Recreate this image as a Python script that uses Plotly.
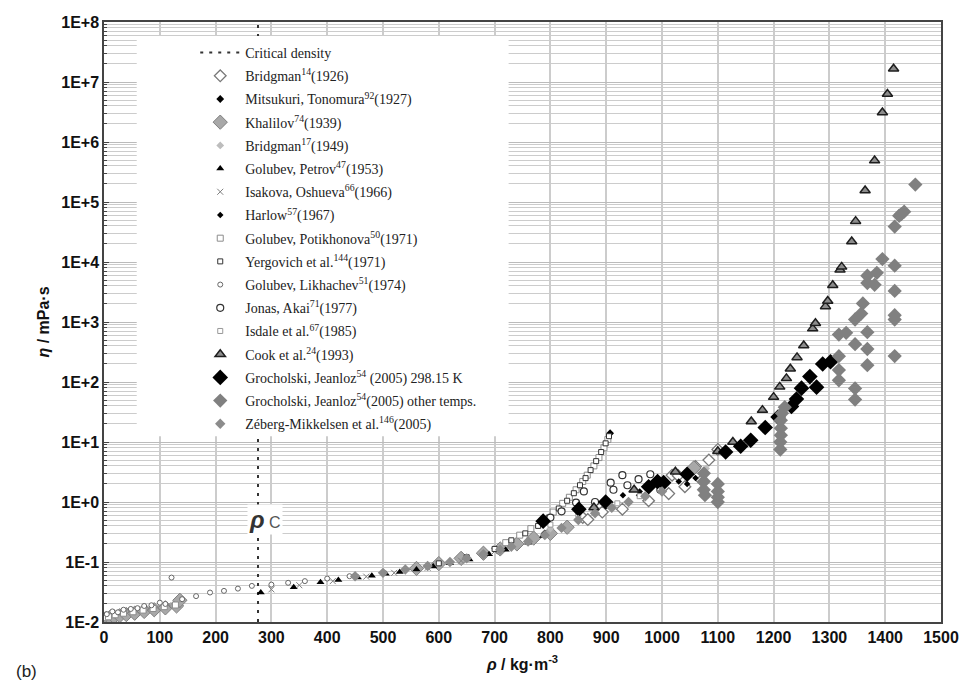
import plotly.graph_objects as go

# ---------------- data ----------------
rho_crit = 276

bridg26_rho = [858, 867, 893, 929, 976, 1012, 1018, 1029, 1041, 1071, 1084, 1100, 1060]
bridg26_eta = [0.55, 0.51, 0.68, 0.76, 1.05, 1.38, 2.8, 2.75, 1.8, 2.3, 5.0, 7.5, 3.9]

mitsu_rho = [620, 680, 740, 790, 850, 907, 960, 1000]
mitsu_eta = [0.10, 0.14, 0.20, 0.30, 0.52, 14.0, 1.3, 1.8]

khal_rho = [0, 4, 10, 18, 28, 40, 55, 72, 90, 110, 130, 136, 560, 600, 640, 680, 710, 740, 770, 800, 830, 1057]
khal_eta = [0.0112, 0.0115, 0.0118, 0.0122, 0.0127, 0.0133, 0.014, 0.015, 0.016, 0.0172, 0.0185, 0.023,
            0.078, 0.094, 0.115, 0.14, 0.165, 0.2, 0.25, 0.3, 0.38, 3.7]

bridg49_rho = [700, 800, 900, 1000, 1077, 1079]
bridg49_eta = [0.17, 0.36, 0.85, 1.9, 3.2, 3.6]

gpet_rho = [281, 340, 388, 420, 455, 480, 505, 530, 560, 590, 620, 655, 690, 720, 760, 787]
gpet_eta = [0.031, 0.038, 0.046, 0.050, 0.055, 0.059, 0.064, 0.068, 0.075, 0.084, 0.095, 0.11, 0.135, 0.16, 0.21, 0.27]

isak_rho = [3, 10, 20, 30, 45, 58, 70, 82, 95, 115, 130, 300, 350, 410, 470, 520, 580, 640, 700]
isak_eta = [0.0125, 0.013, 0.0138, 0.0142, 0.015, 0.0155, 0.016, 0.0168, 0.0175, 0.019, 0.0195,
            0.035, 0.041, 0.048, 0.057, 0.066, 0.08, 0.105, 0.15]

harlow_rho = [900, 930, 960, 985, 1000, 1030, 1045, 1060]
harlow_eta = [1.0, 1.3, 1.5, 2.0, 1.6, 2.2, 2.0, 2.5]

gpot_rho = [0, 8, 20, 35, 52, 70, 88, 108, 128, 720, 745, 765, 787, 805, 822, 834, 846, 858, 866, 878, 887, 896, 903]
gpot_eta = [0.0118, 0.0122, 0.0132, 0.014, 0.0148, 0.0158, 0.0168, 0.018, 0.0192,
            0.21, 0.28, 0.36, 0.50, 0.68, 0.95, 1.2, 1.6, 2.2, 2.8, 4.0, 5.5, 8.0, 11.0]

yerg_rho = [600, 650, 700, 730, 755, 778, 797, 815, 830, 842, 853, 863, 872, 882, 891, 899, 905]
yerg_eta = [0.095, 0.12, 0.165, 0.23, 0.30, 0.40, 0.55, 0.78, 1.05, 1.4, 1.9, 2.5, 3.4, 4.8, 6.8, 9.5, 12.5]

glik_rho = [5, 15, 25, 35, 48, 60, 72, 85, 100, 110, 121, 140, 165, 190, 215, 240, 265, 300, 330, 360, 400, 440]
glik_eta = [0.0135, 0.015, 0.0145, 0.016, 0.0165, 0.017, 0.0185, 0.019, 0.021, 0.02, 0.055, 0.024,
            0.027, 0.031, 0.033, 0.036, 0.04, 0.042, 0.045, 0.048, 0.053, 0.058]

jonas_rho = [800, 820, 846, 860, 880, 908, 913, 929, 938, 958, 979, 997]
jonas_eta = [0.55, 0.7, 0.98, 1.5, 1.0, 2.1, 1.6, 2.8, 1.9, 2.4, 2.9, 1.6]

isdale_rho = [800, 850, 880, 920, 960, 1000]
isdale_eta = [0.42, 0.62, 0.75, 0.95, 1.25, 1.6]

cook_rho = [878, 950, 1024, 1100, 1127, 1160, 1180, 1200, 1211, 1223, 1230, 1242, 1254, 1270, 1275,
            1293, 1297, 1306, 1319, 1322, 1340, 1347, 1364, 1381, 1395, 1404, 1415]
cook_eta = [0.81, 1.6, 3.2, 7.0, 10, 22, 34, 56, 83, 115, 166, 257, 407, 776, 955,
            1820, 2240, 4100, 7400, 8300, 2.2e4, 4.8e4, 1.55e5, 4.9e5, 3.1e6, 6.3e6, 1.66e7]

gj298_rho = [787, 851, 899, 976, 992, 1003, 1045, 1114, 1141, 1159, 1185, 1208, 1232, 1241, 1250, 1265, 1277, 1288, 1302]
gj298_eta = [0.48, 0.76, 1.0, 1.8, 2.2, 2.1, 2.9, 6.8, 8.5, 10.7, 17.4, 26, 39, 52, 79, 123, 82, 200, 218]

gjoth_rho = [1075, 1075, 1075, 1077, 1100, 1100, 1100, 1100, 1212, 1212, 1213, 1213, 1213, 1215, 1220,
             1317, 1317, 1317, 1317, 1330, 1346, 1346, 1346, 1346, 1357, 1360, 1368, 1368, 1368, 1368,
             1368, 1381, 1385, 1395, 1417, 1417, 1417, 1417, 1417, 1417, 1425, 1429, 1434, 1454]
gjoth_eta = [3.0, 2.2, 1.6, 1.3, 2.0, 1.5, 1.2, 1.0, 7.5, 10, 13, 17, 23, 30, 38,
             107, 158, 269, 617, 661, 51, 78, 427, 1100, 1380, 2040, 191, 355, 676, 4470,
             5900, 4170, 6600, 11200, 270, 1100, 1300, 3300, 8700, 39000, 59000, 63000, 69000, 195000]

zeb_rho = [450, 500, 540, 580, 620, 650, 680, 710, 730, 760, 790, 820, 850, 880, 910, 940, 970, 1000]
zeb_eta = [0.058, 0.066, 0.075, 0.086, 0.10, 0.115, 0.135, 0.16, 0.18, 0.22, 0.28, 0.37, 0.5, 0.65, 0.8, 1.0, 1.25, 1.5]

x_ticks = list(range(0, 1501, 100))
y_tickvals = [0.01, 0.1, 1, 10, 100, 1e3, 1e4, 1e5, 1e6, 1e7, 1e8]
y_ticktext = ["1E-2", "1E-1", "1E+0", "1E+1", "1E+2", "1E+3", "1E+4", "1E+5", "1E+6", "1E+7", "1E+8"]

# ---------------- figure ----------------
fig = go.Figure()

fig.add_trace(go.Scatter(x=[rho_crit, rho_crit], y=[0.01, 1e8], mode="lines",
                         line=dict(color="#333333", width=2, dash="3px,6px"),
                         name="Critical density", legendgroup="g0"))


def add(xs, ys, name, symbol, size, color, lcolor=None, lw=0, g=""):
    fig.add_trace(go.Scatter(
        x=xs, y=ys, mode="markers", name=name, legendgroup=g,
        marker=dict(symbol=symbol, size=size, color=color,
                    line=dict(color=lcolor if lcolor else color, width=lw))))


add(bridg26_rho, bridg26_eta, "Bridgman<sup>14</sup>(1926)", "diamond", 9, "white", "#7a7a7a", 1.3, "g1")
add(mitsu_rho, mitsu_eta, "Mitsukuri, Tonomura<sup>92</sup>(1927)", "diamond", 6, "black", g="g2")
add(khal_rho, khal_eta, "Khalilov<sup>74</sup>(1939)", "diamond", 11, "#a8a8a8", "#808080", 1, "g3")
add(bridg49_rho, bridg49_eta, "Bridgman<sup>17</sup>(1949)", "diamond", 6, "#bdbdbd", g="g4")
add(gpet_rho, gpet_eta, "Golubev, Petrov<sup>47</sup>(1953)", "triangle-up", 7, "black", g="g5")
add(isak_rho, isak_eta, "Isakova, Oshueva<sup>66</sup>(1966)", "x-thin-open", 6, "#808080", "#808080", 1, "g6")
add(harlow_rho, harlow_eta, "Harlow<sup>57</sup>(1967)", "diamond", 5, "black", g="g7")
add(gpot_rho, gpot_eta, "Golubev, Potikhonova<sup>50</sup>(1971)", "square", 6, "white", "#8c8c8c", 1, "g8")
add(yerg_rho, yerg_eta, "Yergovich et al.<sup>144</sup>(1971)", "square", 5, "white", "#333333", 1, "g9")
add(glik_rho, glik_eta, "Golubev, Likhachev<sup>51</sup>(1974)", "circle", 5, "white", "#666666", 1, "g10")
add(jonas_rho, jonas_eta, "Jonas, Akai<sup>71</sup>(1977)", "circle", 7, "white", "#333333", 1.2, "g11")
add(isdale_rho, isdale_eta, "Isdale et al.<sup>67</sup>(1985)", "square", 5, "white", "#999999", 1, "g12")
add(cook_rho, cook_eta, "Cook et al.<sup>24</sup>(1993)", "triangle-up", 9, "#8c8c8c", "#1e1e1e", 1.5, "g13")
add(gj298_rho, gj298_eta, "Grocholski, Jeanloz<sup>54</sup> (2005) 298.15 K", "diamond", 12, "black", g="g14")
add(gjoth_rho, gjoth_eta, "Grocholski, Jeanloz<sup>54</sup>(2005) other temps.", "diamond", 11, "#808080", g="g15")
add(zeb_rho, zeb_eta, "Zéberg-Mikkelsen et al.<sup>146</sup>(2005)", "diamond", 8, "#8c8c8c", g="g16")

# white panel behind legend (covers grid and critical line)
fig.add_shape(type="rect", xref="paper", yref="paper",
              x0=(137 - 104) / 844, x1=(512 - 104) / 844,
              y0=(623 - 437) / 601, y1=(623 - 36) / 601,
              fillcolor="white", line=dict(width=0), layer="above")

fig.add_annotation(x=288, y=-0.286, xref="x", yref="y",
                   text="<b><i>ρ</i></b><span style='font-size:16px;color:#555'> C</span>",
                   showarrow=False, bgcolor="white",
                   font=dict(family="Liberation Sans", size=24, color="#333333"))

fig.add_annotation(x=-0.108, y=-0.082, xref="paper", yref="paper", text="(b)",
                   showarrow=False, xanchor="left", yanchor="middle",
                   font=dict(family="Liberation Sans", size=17, color="#222222"))

grid_c = "#cccccc"
fig.update_layout(
    width=971, height=683,
    margin=dict(l=104, r=23, t=22, b=60),
    paper_bgcolor="white", plot_bgcolor="white",
    showlegend=True,
    legend=dict(x=(196 - 104) / 844, y=(623 - 37) / 601, xanchor="left", yanchor="top",
                bgcolor="rgba(0,0,0,0)", borderwidth=0,
                font=dict(family="Liberation Serif", size=14, color="#222222"),
                tracegroupgap=2, itemsizing="trace", itemwidth=40),
    xaxis=dict(range=[0, 1500], tickvals=x_ticks, ticktext=[str(v) for v in x_ticks],
               showgrid=True, gridcolor=grid_c, gridwidth=1.5,
               showline=True, linecolor="#444444", linewidth=1.5, mirror=True,
               ticks="", zeroline=False,
               tickfont=dict(family="Liberation Sans", size=16, color="#111111", weight="bold"),
               title=dict(text="<i>ρ</i> / kg·m<sup>-3</sup>", standoff=14,
                          font=dict(family="Liberation Sans", size=16, color="#111111", weight="bold"))),
    yaxis=dict(type="log", range=[-2, 8], tickvals=y_tickvals, ticktext=y_ticktext,
               showgrid=True, gridcolor="#bbbbbb", gridwidth=1,
               minor=dict(dtick="D1", showgrid=True, gridcolor=grid_c, gridwidth=1,
                          ticks="inside", ticklen=3, tickcolor="#444444"),
               ticks="inside", ticklen=5, tickcolor="#444444",
               showline=True, linecolor="#444444", linewidth=1.5, mirror=True,
               zeroline=False,
               tickfont=dict(family="Liberation Sans", size=16, color="#111111", weight="bold"),
               title=dict(text="<i>η</i> / mPa·s", standoff=8,
                          font=dict(family="Liberation Sans", size=16, color="#111111", weight="bold"))),
)

fig.write_html("out.html")
